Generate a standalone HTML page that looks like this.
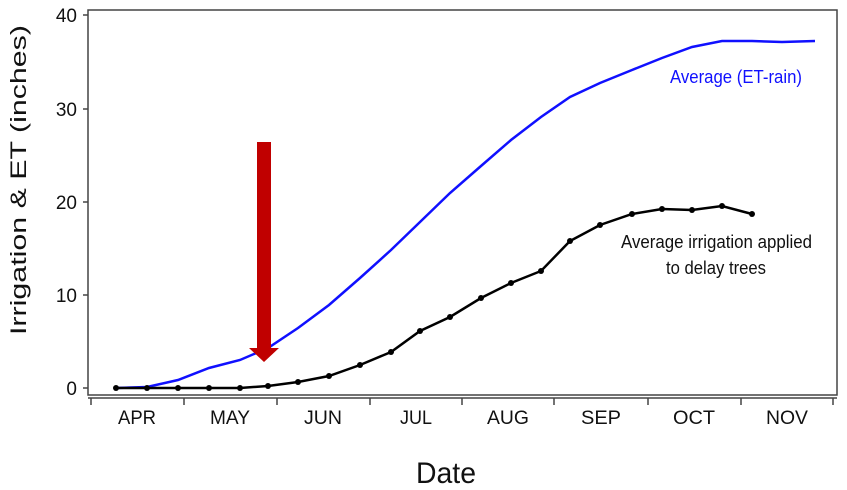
<!DOCTYPE html>
<html><head><meta charset="utf-8"><style>body{margin:0;background:#fff}svg{display:block}text{font-family:"Liberation Sans",sans-serif}</style></head><body>
<svg width="847" height="490" xmlns="http://www.w3.org/2000/svg">
<rect x="88" y="10" width="749" height="385" fill="none" stroke="#444" stroke-width="1.5"/>
<line x1="88" y1="398" x2="837" y2="398" stroke="#444" stroke-width="1.5"/>
<g stroke="#444" stroke-width="1.5">
<line x1="91" y1="398" x2="91" y2="405"/><line x1="184" y1="398" x2="184" y2="405"/><line x1="277" y1="398" x2="277" y2="405"/><line x1="370" y1="398" x2="370" y2="405"/><line x1="462" y1="398" x2="462" y2="405"/><line x1="554" y1="398" x2="554" y2="405"/><line x1="648" y1="398" x2="648" y2="405"/><line x1="741" y1="398" x2="741" y2="405"/><line x1="833" y1="398" x2="833" y2="405"/>
<line x1="83" y1="388" x2="88" y2="388"/><line x1="83" y1="295" x2="88" y2="295"/><line x1="83" y1="202" x2="88" y2="202"/><line x1="83" y1="109" x2="88" y2="109"/><line x1="83" y1="15" x2="88" y2="15"/>
</g>
<g font-size="19" text-anchor="end" fill="#111">
<text x="77" y="395">0</text><text x="77" y="302">10</text><text x="77" y="209">20</text><text x="77" y="116">30</text><text x="77" y="22">40</text>
</g>
<g font-size="19" text-anchor="middle" fill="#111">
<text x="137" y="424" textLength="38" lengthAdjust="spacingAndGlyphs">APR</text><text x="230" y="424" textLength="40" lengthAdjust="spacingAndGlyphs">MAY</text><text x="323" y="424" textLength="38" lengthAdjust="spacingAndGlyphs">JUN</text><text x="416" y="424" textLength="32" lengthAdjust="spacingAndGlyphs">JUL</text><text x="508" y="424" textLength="42" lengthAdjust="spacingAndGlyphs">AUG</text><text x="601" y="424" textLength="40" lengthAdjust="spacingAndGlyphs">SEP</text><text x="694" y="424" textLength="42" lengthAdjust="spacingAndGlyphs">OCT</text><text x="787" y="424" textLength="42" lengthAdjust="spacingAndGlyphs">NOV</text>
</g>
<text x="446" y="483" font-size="30" text-anchor="middle" fill="#111" textLength="60" lengthAdjust="spacingAndGlyphs">Date</text>
<text transform="translate(26,180) rotate(-90)" font-size="22" text-anchor="middle" fill="#111" textLength="310" lengthAdjust="spacingAndGlyphs">Irrigation &amp; ET (inches)</text>
<polyline fill="none" stroke="#1010ff" stroke-width="2.5" points="116,388 147,387 178,380 209,368 240,360 268,348 298,328 329,305 360,278 391,250 420,222 450,193 481,166 511,140 541,117 570,97 600,83 632,70 662,58 692,47 722,41 752,41 782,42 815,41"/>
<polyline fill="none" stroke="#000" stroke-width="2.5" points="116,388 147,388 178,388 209,388 240,388 268,386 298,382 329,376 360,365 391,352 420,331 450,317 481,298 511,283 541,271 570,241 600,225 632,214 662,209 692,210 722,206 752,214"/>
<g fill="#000"><circle cx="116" cy="388" r="3"/><circle cx="147" cy="388" r="3"/><circle cx="178" cy="388" r="3"/><circle cx="209" cy="388" r="3"/><circle cx="240" cy="388" r="3"/><circle cx="268" cy="386" r="3"/><circle cx="298" cy="382" r="3"/><circle cx="329" cy="376" r="3"/><circle cx="360" cy="365" r="3"/><circle cx="391" cy="352" r="3"/><circle cx="420" cy="331" r="3"/><circle cx="450" cy="317" r="3"/><circle cx="481" cy="298" r="3"/><circle cx="511" cy="283" r="3"/><circle cx="541" cy="271" r="3"/><circle cx="570" cy="241" r="3"/><circle cx="600" cy="225" r="3"/><circle cx="632" cy="214" r="3"/><circle cx="662" cy="209" r="3"/><circle cx="692" cy="210" r="3"/><circle cx="722" cy="206" r="3"/><circle cx="752" cy="214" r="3"/></g>
<polygon fill="#c00000" points="257,142 271,142 271,348 279,348 264,362 249,348 257,348"/>
<text x="670" y="83" font-size="18" fill="#1010ff" textLength="132" lengthAdjust="spacingAndGlyphs">Average (ET-rain)</text>
<text x="621" y="248" font-size="18" fill="#111" textLength="191" lengthAdjust="spacingAndGlyphs">Average irrigation applied</text>
<text x="666" y="274" font-size="18" fill="#111" textLength="100" lengthAdjust="spacingAndGlyphs">to delay trees</text>
</svg>
</body></html>
